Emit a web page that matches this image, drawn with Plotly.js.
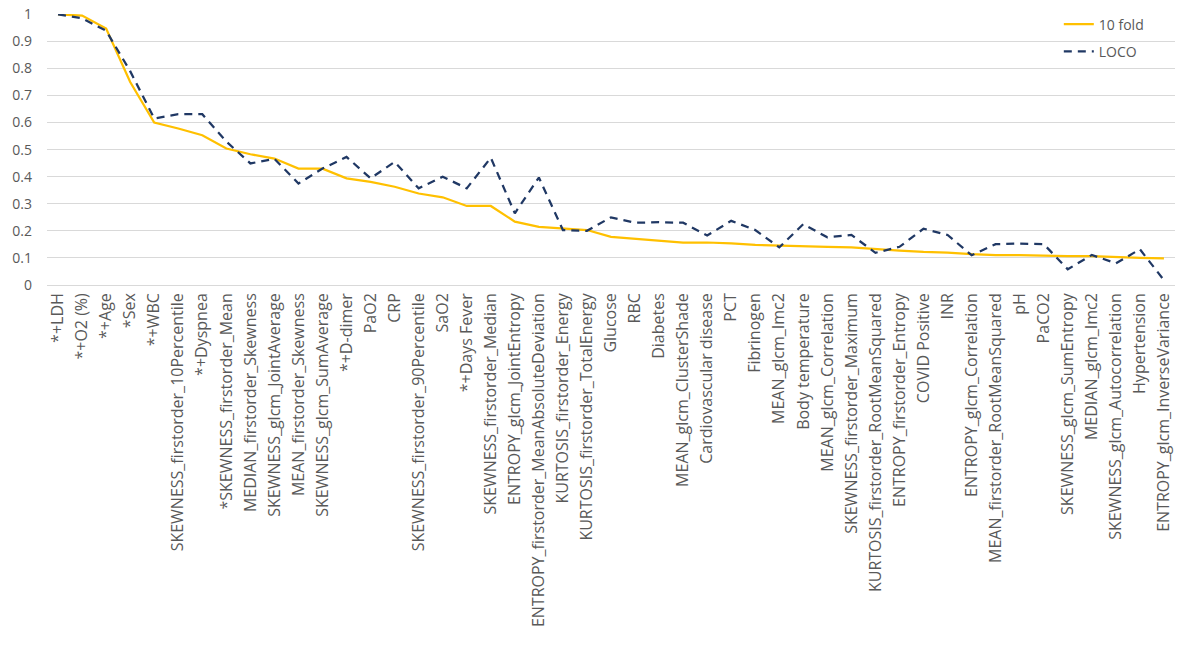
<!DOCTYPE html>
<html>
<head>
<meta charset="utf-8">
<script src="https://cdn.plot.ly/plotly-3.0.1.min.js"></script>
<style>
  html, body { margin: 0; padding: 0; background: #fff; }
  #chart { width: 1184px; height: 652px; }
</style>
</head>
<body>
<div id="chart"></div>
<script>
const features = [
  '*+LDH', '*+O2 (%)', '*+Age', '*Sex', '*+WBC',
  'SKEWNESS_firstorder_10Percentile', '*+Dyspnea', '*SKEWNESS_firstorder_Mean',
  'MEDIAN_firstorder_Skewness', 'SKEWNESS_glcm_JointAverage', 'MEAN_firstorder_Skewness',
  'SKEWNESS_glcm_SumAverage', '*+D-dimer', 'PaO2', 'CRP',
  'SKEWNESS_firstorder_90Percentile', 'SaO2', '*+Days Fever', 'SKEWNESS_firstorder_Median',
  'ENTROPY_glcm_JointEntropy', 'ENTROPY_firstorder_MeanAbsoluteDeviation',
  'KURTOSIS_firstorder_Energy', 'KURTOSIS_firstorder_TotalEnergy', 'Glucose', 'RBC',
  'Diabetes', 'MEAN_glcm_ClusterShade', 'Cardiovascular disease', 'PCT', 'Fibrinogen',
  'MEAN_glcm_Imc2', 'Body temperature', 'MEAN_glcm_Correlation',
  'SKEWNESS_firstorder_Maximum', 'KURTOSIS_firstorder_RootMeanSquared',
  'ENTROPY_firstorder_Entropy', 'COVID Positive', 'INR', 'ENTROPY_glcm_Correlation',
  'MEAN_firstorder_RootMeanSquared', 'pH', 'PaCO2', 'SKEWNESS_glcm_SumEntropy',
  'MEDIAN_glcm_Imc2', 'SKEWNESS_glcm_Autocorrelation', 'Hypertension',
  'ENTROPY_glcm_InverseVariance'
];

const tenFold = [
  1.0, 0.995, 0.947, 0.75, 0.60, 0.578, 0.553, 0.504, 0.483, 0.467,
  0.43, 0.43, 0.394, 0.381, 0.363, 0.338, 0.324, 0.292, 0.292, 0.234,
  0.215, 0.21, 0.203, 0.178, 0.171, 0.166, 0.157, 0.157, 0.154, 0.148,
  0.145, 0.143, 0.141, 0.139, 0.132, 0.127, 0.122, 0.12, 0.114, 0.11,
  0.11, 0.108, 0.107, 0.107, 0.103, 0.1, 0.098
];

const loco = [
  1.0, 0.985, 0.939, 0.79, 0.615, 0.631, 0.631, 0.53, 0.449, 0.466,
  0.375, 0.43, 0.473, 0.394, 0.455, 0.357, 0.40, 0.357, 0.47, 0.265,
  0.397, 0.203, 0.20, 0.25, 0.23, 0.232, 0.23, 0.183, 0.237, 0.203,
  0.139, 0.225, 0.176, 0.185, 0.119, 0.141, 0.208, 0.185, 0.11, 0.151,
  0.153, 0.151, 0.058, 0.111, 0.08, 0.132, 0.018
];

const yTicks = [0, 0.1, 0.2, 0.3, 0.4, 0.5, 0.6, 0.7, 0.8, 0.9, 1];

const textColor = '#595959';
const gridColor = '#d9d9d9';

const data = [
  {
    type: 'scatter', mode: 'lines', name: '10 fold',
    x: features, y: tenFold, legendgroup: 'a',
    line: {color: '#ffc000', width: 2.25}
  },
  {
    type: 'scatter', mode: 'lines', name: 'LOCO',
    x: features, y: loco, legendgroup: 'b',
    line: {color: '#203864', width: 2.25, dash: '8px,6px'}
  }
];

const layout = {
  width: 1184, height: 652,
  margin: {l: 47, r: 9, t: 14, b: 367},
  paper_bgcolor: '#fff', plot_bgcolor: '#fff',
  font: {family: 'Open Sans, sans-serif', size: 13, color: textColor},
  showlegend: true,
  legend: {
    x: 0.897, y: 1.02, xanchor: 'left', yanchor: 'top',
    bgcolor: 'rgba(0,0,0,0)', traceorder: 'grouped', tracegroupgap: 6,
    font: {size: 14, color: textColor}, itemwidth: 30
  },
  xaxis: {
    type: 'category', range: [-0.46, 46.46],
    tickangle: -90, showgrid: false, zeroline: false,
    showline: false, ticks: '', tickfont: {size: 16, color: textColor},
    ticklabelstandoff: 4, automargin: false
  },
  yaxis: {
    range: [0, 1.001], tickvals: yTicks, ticktext: yTicks.map(String),
    showgrid: true, gridcolor: gridColor, gridwidth: 1,
    zeroline: true, zerolinecolor: gridColor, zerolinewidth: 1,
    showline: false, ticks: '', tickfont: {size: 14, color: textColor},
    ticklabelstandoff: 14
  }
};

Plotly.newPlot('chart', data, layout, {staticPlot: true});
</script>
</body>
</html>
